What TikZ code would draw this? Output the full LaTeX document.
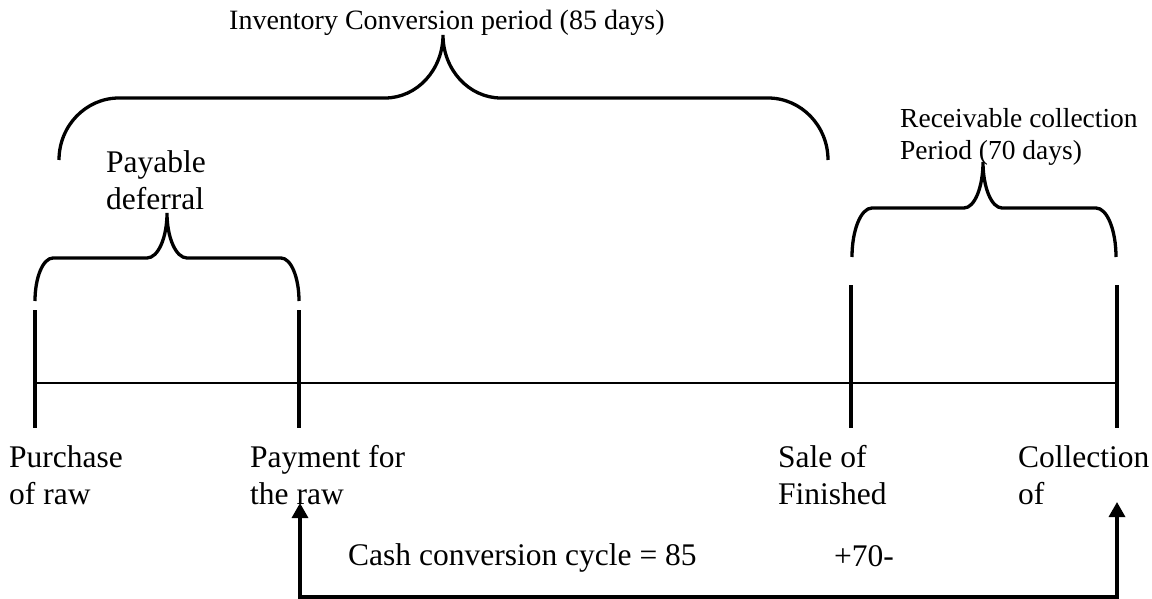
\documentclass[tikz,border=0pt]{standalone}
\usepackage{fontspec}
\setmainfont{Liberation Serif}
\usetikzlibrary{arrows.meta}
\newcommand\wordbrace[9]{% #1 style, #2 x1, #3 x2, #4 y ends, #5 y horizontal, #6 x tip, #7 y tip, #8 corner rx, #9 tip rx
  \draw[#1] (#2,#4) .. controls (#2,{#4-0.552*(#4-#5)}) and ({#2+0.448*#8},#5) .. ({#2+#8},#5)
   -- ({#6-#9},#5) .. controls ({#6-0.448*#9},#5) and (#6,{#7+0.552*(#5-#7)}) .. (#6,#7)
   .. controls (#6,{#7+0.552*(#5-#7)}) and ({#6+0.448*#9},#5) .. ({#6+#9},#5)
   -- ({#3-#8},#5) .. controls ({#3-0.448*#8},#5) and (#3,{#4-0.552*(#4-#5)}) .. (#3,#4);}
\begin{document}
\begin{tikzpicture}[x=1pt,y=-1pt,
  bracestyle/.style={line width=3.3pt, line cap=butt},
  tickstyle/.style={line width=3.3pt},
  axisstyle/.style={line width=2.9pt},
  flowstyle/.style={line width=3.3pt, line join=miter,
    {Triangle[length=15pt,width=16pt]}-{Triangle[length=15pt,width=16pt]}},
  lbl/.style={inner sep=0pt, anchor=base west, font=\fontsize{31.5}{37}\selectfont},
  toplbl/.style={inner sep=0pt, anchor=base west, font=\fontsize{27.5}{32}\selectfont}]
\useasboundingbox (0,0) rectangle (1152,599);
% time line and ticks
\coordinate (axL) at (33,383);
\coordinate (axR) at (1119,383);
\draw[axisstyle] (axL) -- (axR);
\coordinate (t1a) at (35,310);   \coordinate (t1b) at (35,428);
\coordinate (t2a) at (299,310);  \coordinate (t2b) at (299,428);
\coordinate (t3a) at (851,285);  \coordinate (t3b) at (851,428);
\coordinate (t4a) at (1117,285); \coordinate (t4b) at (1117,428);
\draw[tickstyle] (t1a) -- (t1b);
\draw[tickstyle] (t2a) -- (t2b);
\draw[tickstyle] (t3a) -- (t3b);
\draw[tickstyle] (t4a) -- (t4b);
% braces
\wordbrace{bracestyle}{59}{828}{160}{98}{443}{35}{60}{58}
\wordbrace{bracestyle}{35}{299}{301}{258}{167}{213}{18}{20}
\wordbrace{bracestyle}{852}{1116}{257}{208}{983}{162}{20}{19}
% brace labels
\node[toplbl, font=\fontsize{28}{32}\selectfont] (inv) at (229,30) {Inventory Conversion period (85 days)};
\node[lbl] (pay1) at (106,173) {Payable};
\node[lbl] (pay2) at (106,210) {deferral};
\node[toplbl] (rec1) at (900,128) {Receivable collection};
\node[toplbl] (rec2) at (900,160) {Period (70 days)};
% event labels
\node[lbl] (pur1) at (9,467) {Purchase};
\node[lbl] (pur2) at (9,504) {of raw};
\node[lbl] (pm1) at (250,467) {Payment for};
\node[lbl] (pm2) at (250,504) {the raw};
\node[lbl] (sal1) at (778,467) {Sale of};
\node[lbl] (sal2) at (778,504) {Finished};
\node[lbl] (col1) at (1018,467) {Collection};
\node[lbl] (col2) at (1018,504) {of};
% cash conversion cycle
\coordinate (payTip) at (300,503);
\coordinate (payLow) at (300,597);
\coordinate (colLow) at (1117,597);
\coordinate (colTip) at (1117,502);
\draw[flowstyle] (payTip) -- (payLow) -- (colLow) -- (colTip);
\node[lbl] (ccc) at (348,565) {Cash conversion cycle = 85};
\node[lbl] (plus) at (834,566) {+70-};
\end{tikzpicture}
\end{document}
